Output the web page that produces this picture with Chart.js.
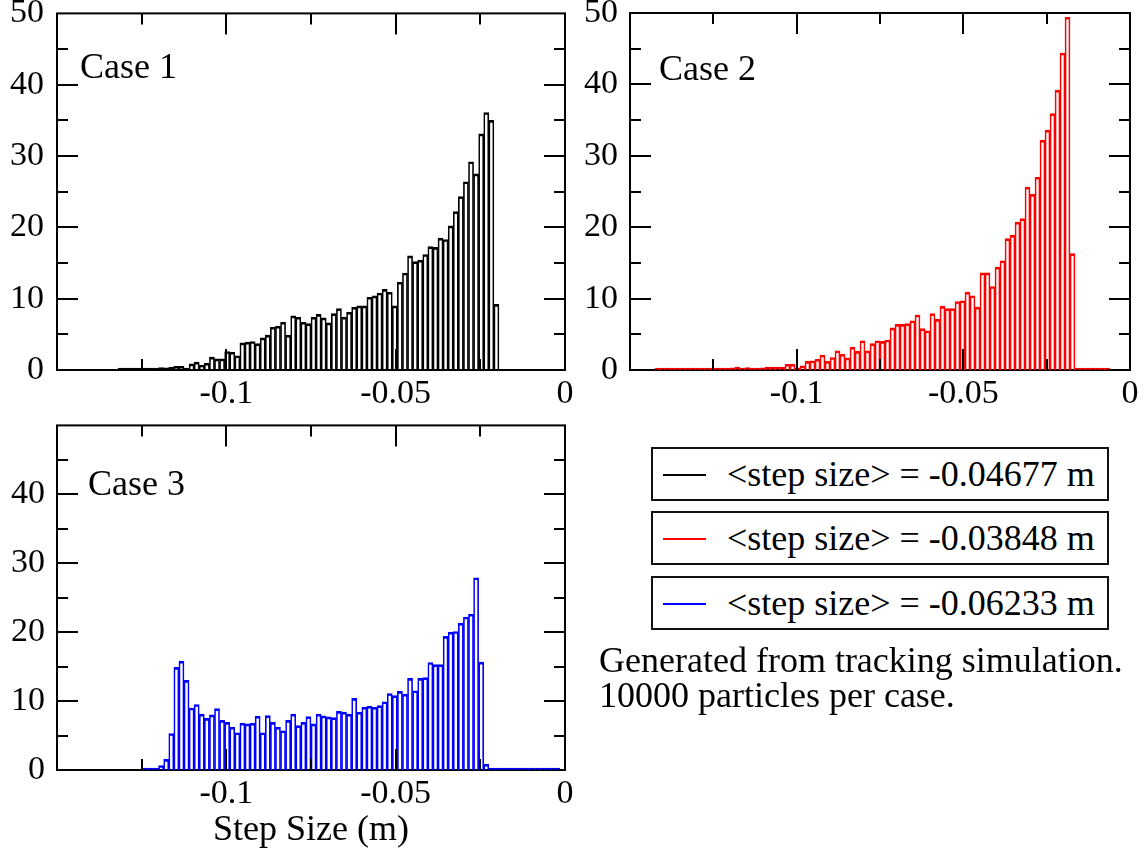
<!DOCTYPE html>
<html>
<head>
<meta charset="utf-8">
<script src="https://cdn.jsdelivr.net/npm/chart.js@4.4.0/dist/chart.umd.min.js"></script>
<style>
  html, body { margin: 0; padding: 0; background: #fff; }
  body { width: 1146px; height: 853px; position: relative; overflow: hidden;
         font-family: 'Liberation Serif', 'Times New Roman', serif; color: #000; }
  canvas { position: absolute; }
  .lg { position: absolute; left: 651px; width: 458px; height: 54px; box-sizing: border-box;
        border: 2px solid #111; }
  .lg .sw { position: absolute; left: 10px; width: 43px; height: 1.5px; top: 25px; }
  .lg .tx { position: absolute; left: 74px; top: 0; height: 50px; line-height: 50px;
            font-size: 36px; white-space: nowrap; }
  .note { position: absolute; left: 599px; top: 643px; font-size: 36px; line-height: 35px;
          white-space: nowrap; }
</style>
</head>
<body>
<canvas id="c1" width="600" height="440" style="left:0px;top:-20px"></canvas>
<canvas id="c2" width="576" height="440" style="left:570px;top:-20px"></canvas>
<canvas id="c3" width="600" height="460" style="left:0px;top:393px"></canvas>
<div id="legend"></div>
<div class="note">Generated from tracking simulation.<br>10000 particles per case.</div>
<script>
// Histogram bins: centres of 100 bins of width 0.0015 m spanning [-0.15, 0]
const binCenters = [
  -0.14925,-0.14775,-0.14625,-0.14475,-0.14325,-0.14175,-0.14025,-0.13875,-0.13725,-0.13575,
  -0.13425,-0.13275,-0.13125,-0.12975,-0.12825,-0.12675,-0.12525,-0.12375,-0.12225,-0.12075,
  -0.11925,-0.11775,-0.11625,-0.11475,-0.11325,-0.11175,-0.11025,-0.10875,-0.10725,-0.10575,
  -0.10425,-0.10275,-0.10125,-0.09975,-0.09825,-0.09675,-0.09525,-0.09375,-0.09225,-0.09075,
  -0.08925,-0.08775,-0.08625,-0.08475,-0.08325,-0.08175,-0.08025,-0.07875,-0.07725,-0.07575,
  -0.07425,-0.07275,-0.07125,-0.06975,-0.06825,-0.06675,-0.06525,-0.06375,-0.06225,-0.06075,
  -0.05925,-0.05775,-0.05625,-0.05475,-0.05325,-0.05175,-0.05025,-0.04875,-0.04725,-0.04575,
  -0.04425,-0.04275,-0.04125,-0.03975,-0.03825,-0.03675,-0.03525,-0.03375,-0.03225,-0.03075,
  -0.02925,-0.02775,-0.02625,-0.02475,-0.02325,-0.02175,-0.02025,-0.01875,-0.01725,-0.01575,
  -0.01425,-0.01275,-0.01125,-0.00975,-0.00825,-0.00675,-0.00525,-0.00375,-0.00225,-0.00075
];

// Normalised step-size distributions (null = outside the sampled range)
const case1 = [
  null,null,null,null,null,null,null,null,null,null,
  null,null,0.1,0.1,0.1,0.1,0.15,0.15,0.2,0.2,
  0.35,0.3,0.4,0.5,0.5,0.25,0.85,1.1,0.7,0.95,
  1.8,1.55,1.55,2.6,2.5,2.0,3.8,3.9,4.0,3.7,
  4.5,4.9,6.0,6.15,6.7,4.9,7.6,7.4,6.7,6.5,
  7.4,7.8,7.3,6.6,7.9,8.6,7.4,8.1,8.8,9.0,
  9.0,10.2,10.4,10.8,11.3,10.9,9.0,12.3,13.6,16.0,
  15.2,15.4,16.2,17.3,17.2,18.5,18.3,20.2,22.2,24.3,
  26.4,29.2,27.5,33.1,36.1,35.0,9.2,null,null,null,
  null,null,null,null,null,null,null,null,null,null
];
const case2 = [
  null,null,null,null,null,0.1,0.1,0.1,0.05,0.05,
  0.05,0.1,0.1,0.1,0.1,0.1,0.25,0.1,0.1,0.1,
  0.3,0.4,0.1,0.35,0.05,0.2,0.3,0.4,0.4,0.4,
  0.4,0.8,0.8,0.3,0.6,1.2,1.3,1.5,2.1,1.2,
  1.75,2.7,2.2,1.7,3.2,2.6,4.1,2.7,3.7,4.1,
  4.0,4.2,5.9,6.4,6.4,6.5,6.9,7.7,5.8,5.5,
  7.9,7.1,8.9,8.6,8.6,9.6,9.7,10.9,10.4,8.8,
  13.6,13.6,11.7,14.4,15.3,18.4,18.9,20.7,21.2,25.6,
  24.6,27.0,32.2,33.6,35.9,39.2,44.4,49.4,16.3,0,
  0,0,0,0,0,0,null,null,null,null
];
const case3 = [
  null,null,null,null,null,null,null,null,null,null,
  null,null,null,null,null,null,null,0,0,0.25,
  0.65,1.55,5.3,14.9,15.8,13.0,9.0,9.5,8.1,7.5,
  8.0,8.9,7.2,6.9,6.2,5.4,6.8,6.7,6.8,7.8,
  5.4,7.9,6.9,6.2,5.7,7.2,8.1,6.45,6.9,7.75,
  6.7,8.1,7.85,7.7,7.6,8.5,8.4,8.1,10.4,8.4,
  9.1,9.25,9.1,9.35,9.9,11.1,10.8,11.4,11.0,13.3,
  11.5,13.3,13.4,15.6,15.3,15.3,19.4,20.0,20.1,21.3,
  22.2,22.6,27.9,15.65,0.85,0,0,0,0,0.1,
  0,0,0.1,0,0,0,0,0,0,null
];

const caseNames = ['Case 1', 'Case 2', 'Case 3'];
const caseColors = ['#000000', '#ff0000', '#0000ff'];
const meanSteps = ['-0.04677', '-0.03848', '-0.06233'];

// Labelled ticks
const xTickLabels = [-0.1, -0.05, 0];
const yTickLabels = [0, 10, 20, 30, 40, 50];
const yTickLabelsCase3 = [0, 10, 20, 30, 40];

const FONT = "'Liberation Serif', 'Times New Roman', serif";

function near(v, list) { return list.some(t => Math.abs(v - t) < 1e-9); }
function isMultiple(v, step) { const q = v / step; return Math.abs(q - Math.round(q)) < 1e-6; }

// Box frame with inward major/minor ticks on all four sides, plus the case caption
const framePlugin = {
  id: 'frame',
  beforeDatasetsDraw(chart) {
    const { ctx, chartArea: a } = chart;
    ctx.save();
    ctx.strokeStyle = '#000';
    ctx.lineWidth = 2;
    ctx.strokeRect(a.left, a.top, a.right - a.left, a.bottom - a.top);
    ctx.restore();
  },
  afterDatasetsDraw(chart, args, opts) {
    const { ctx, chartArea: a, scales: { x, y } } = chart;
    ctx.save();
    ctx.strokeStyle = '#000';
    ctx.lineWidth = 2;
    ctx.beginPath();
    x.ticks.forEach(t => {
      const px = Math.round(x.getPixelForValue(t.value));
      if (px <= a.left + 1 || px >= a.right - 1) return;
      const len = isMultiple(t.value, 0.05) ? 21 : 11;
      ctx.moveTo(px, a.bottom); ctx.lineTo(px, a.bottom - len);
      ctx.moveTo(px, a.top); ctx.lineTo(px, a.top + len);
    });
    y.ticks.forEach(t => {
      const py = Math.round(y.getPixelForValue(t.value));
      if (py <= a.top + 1 || py >= a.bottom - 1) return;
      const len = isMultiple(t.value, 10) ? 21 : 11;
      ctx.moveTo(a.left, py); ctx.lineTo(a.left + len, py);
      ctx.moveTo(a.right, py); ctx.lineTo(a.right - len, py);
    });
    ctx.stroke();
    ctx.font = '36px ' + FONT;
    ctx.fillStyle = '#000';
    ctx.textBaseline = 'alphabetic';
    ctx.textAlign = 'left';
    ctx.fillText(opts.text, a.left + opts.dx, a.top + opts.dy);
    ctx.restore();
  }
};

function makeChart(id, values, color, cfg) {
  return new Chart(document.getElementById(id), {
    type: 'bar',
    data: {
      datasets: [{
        data: values.map((v, i) => ({ x: binCenters[i], y: v })),
        borderColor: color,
        backgroundColor: 'rgba(0,0,0,0)',
        borderWidth: { top: 2, left: 1, right: 1, bottom: 0 },
        borderSkipped: false,
        barPercentage: 1,
        categoryPercentage: 1,
        minBarLength: 2,
        grouped: false
      }]
    },
    options: {
      responsive: false,
      animation: false,
      events: [],
      layout: { autoPadding: false, padding: cfg.padding },
      plugins: {
        legend: { display: false },
        tooltip: { enabled: false },
        frame: { text: cfg.caption, dx: cfg.capDx, dy: cfg.capDy }
      },
      scales: {
        x: {
          type: 'linear',
          min: -0.15, max: 0,
          offset: false,
          grid: { display: false, drawTicks: false, tickLength: 0, offset: false },
          border: { display: false },
          ticks: {
            stepSize: 0.025,
            autoSkip: false,
            maxRotation: 0,
            padding: 4,
            color: '#000',
            font: { family: FONT, size: 34 },
            callback: v => near(v, xTickLabels) ? String(Number(v.toFixed(4))) : ''
          },
          title: cfg.xTitle ? {
            display: true, text: cfg.xTitle, color: '#000',
            font: { family: FONT, size: 36 }, padding: { top: 0, bottom: 1 }
          } : { display: false },
          afterFit: s => { s.height = cfg.xHeight; }
        },
        y: {
          type: 'linear',
          min: 0, max: 50,
          grid: { display: false, drawTicks: false, tickLength: 0 },
          border: { display: false },
          ticks: {
            stepSize: 5,
            autoSkip: false,
            padding: cfg.yPad,
            color: '#000',
            font: { family: FONT, size: 34 },
            callback: v => near(v, cfg.yLabels) ? String(v) : ''
          },
          afterFit: s => { s.width = cfg.yWidth; }
        }
      }
    },
    plugins: [framePlugin]
  });
}

makeChart('c1', case1, caseColors[0], {
  padding: { left: 0, top: 33, right: 35, bottom: 0 },
  xHeight: 50, yWidth: 57, yPad: 13, yLabels: yTickLabels,
  caption: caseNames[0], capDx: 23, capDy: 65
});
makeChart('c2', case2, caseColors[1], {
  padding: { left: 0, top: 33, right: 16, bottom: 0 },
  xHeight: 50, yWidth: 60, yPad: 12, yLabels: yTickLabels,
  caption: caseNames[1], capDx: 29, capDy: 67
});
makeChart('c3', case3, caseColors[2], {
  padding: { left: 0, top: 20, right: 35, bottom: 0 },
  xHeight: 83, yWidth: 57, yPad: 12, yLabels: yTickLabelsCase3,
  xTitle: 'Step Size (m)',
  caption: caseNames[2], capDx: 31, capDy: 70
});

// Legend boxes: one per case, with the mean step size
const legendTops = [447, 511, 576];
const legend = document.getElementById('legend');
meanSteps.forEach((m, i) => {
  const box = document.createElement('div');
  box.className = 'lg';
  box.style.top = legendTops[i] + 'px';
  const sw = document.createElement('div');
  sw.className = 'sw';
  sw.style.background = caseColors[i];
  const tx = document.createElement('div');
  tx.className = 'tx';
  tx.textContent = '<step size> = ' + m + ' m';
  box.appendChild(sw);
  box.appendChild(tx);
  legend.appendChild(box);
});
</script>
</body>
</html>
